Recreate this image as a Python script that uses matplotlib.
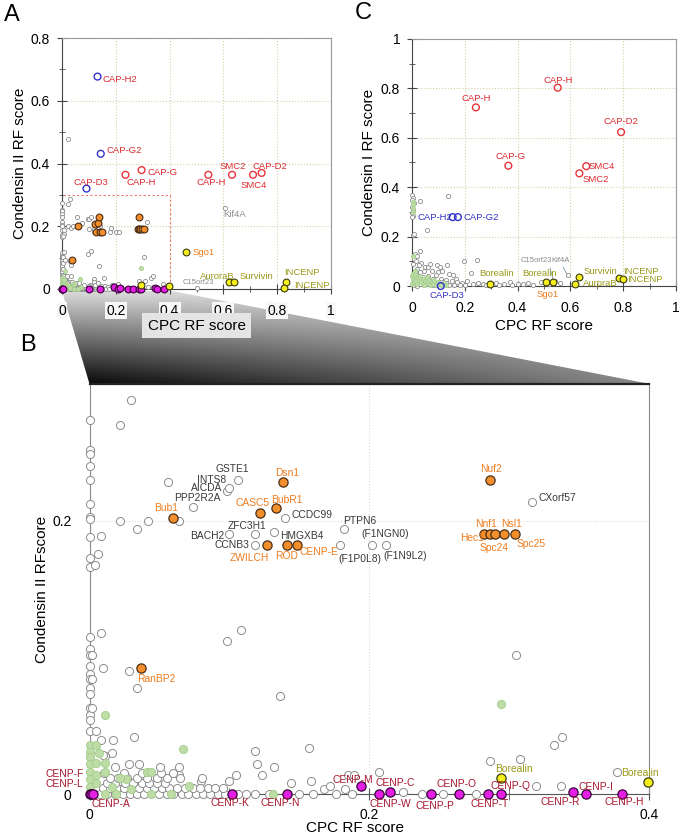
import numpy as np
import matplotlib
matplotlib.use("Agg")
import matplotlib.pyplot as plt
from matplotlib.patches import Polygon, Rectangle
from matplotlib.ticker import MultipleLocator

plt.rcParams['font.family'] = ['Liberation Sans', 'DejaVu Sans']

# ---------------- data: Condensin II RF score vs CPC RF score (A, B) ----------------
gray2 = np.array([
    (0, 0.274), (0, 0.252), (0, 0.249), (0, 0.240), (0, 0.230), (0, 0.212), (0, 0.203),
    (0, 0.201), (0, 0.188), (0, 0.173), (0, 0.166), (0, 0.115), (0, 0.106), (0, 0.102),
    (0, 0.094), (0, 0.088), (0, 0.084), (0, 0.078), (0, 0.073), (0, 0.063), (0, 0.058),
    (0, 0.054), (0, 0.046), (0.002, 0.102), (0.002, 0.084), (0.002, 0.063), (0.005, 0.046),
    (0.030, 0.288), (0.022, 0.270), (0.008, 0.189), (0.006, 0.176), (0.004, 0.168),
    (0.022, 0.200), (0.034, 0.194), (0.042, 0.200), (0.056, 0.228), (0.064, 0.200),
    (0.074, 0.210), (0.098, 0.222), (0.100, 0.224), (0.106, 0.230), (0.140, 0.202),
    (0.118, 0.190), (0.100, 0.190), (0.132, 0.192), (0.118, 0.182), (0.179, 0.182),
    (0.182, 0.194), (0.202, 0.182), (0.212, 0.182), (0.316, 0.214),
    (0.0085, 0.118), (0.010, 0.092), (0.028, 0.090), (0.034, 0.078), (0.098, 0.112),
    (0.108, 0.120), (0.136, 0.072), (0.305, 0.102),
    (0.032, 0.042), (0.008, 0.040), (0.017, 0.040), (0.016, 0.030), (0.011, 0.028),
    (0.118, 0.032), (0.157, 0.034), (0.120, 0.022), (0.123, 0.014), (0.132, 0.020),
    (0.105, 0.014), (0.100, 0.010), (0.028, 0.022), (0.064, 0.014), (0.080, 0.010),
    (0.144, 0.008), (0.158, 0.010), (0.168, 0.004), (0.172, 0.006), (0.332, 0.036),
    (0.338, 0.042), (0.286, 0.024), (0.308, 0.026), (0.319, 0.006), (0.337, 0.006),
    (0.377, 0.016), (0.207, 0.016), (0.183, 0.004), (0.185, 0.014), (0.189, 0.014),
    (0.188, 0.0), (0.224, 0.002), (0.238, 0.0), (0.253, 0.0), (0.276, 0.0), (0.176, 0.0),
    (0.160, 0.0), (0.150, 0.0), (0.128, 0.0), (0.118, 0.0), (0.112, 0.0),
    (0.0075, 0.0), (0.0128, 0.0), (0.0182, 0.0), (0.0237, 0.0), (0.0290, 0.0),
    (0.0338, 0.0), (0.0390, 0.0), (0.0499, 0.0), (0.0552, 0.0), (0.0599, 0.0),
    (0.0659, 0.0), (0.0707, 0.0), (0.0762, 0.0), (0.0814, 0.0), (0.0862, 0.0),
    (0.0921, 0.0), (0.0970, 0.0), (0.1060, 0.0),
    (0.0099, 0.0044), (0.0147, 0.0044), (0.0199, 0.0044), (0.0247, 0.0044),
    (0.0302, 0.0044), (0.0357, 0.0044), (0.0410, 0.0044), (0.0462, 0.0044),
    (0.0516, 0.0044), (0.0571, 0.0044), (0.0624, 0.0044), (0.0683, 0.0044),
    (0.0738, 0.0044), (0.0790, 0.0044), (0.0850, 0.0044), (0.0898, 0.0044),
    (0.0953, 0.0044),
    (0.0123, 0.008), (0.0182, 0.008), (0.0254, 0.008), (0.0314, 0.008), (0.0373, 0.008),
    (0.0428, 0.008), (0.0481, 0.008), (0.0540, 0.008),
    (0.0147, 0.0117), (0.0206, 0.0117), (0.0270, 0.0117), (0.0337, 0.0117),
    (0.0409, 0.0117), (0.0481, 0.0117), (0.0552, 0.0117), (0.0647, 0.0117),
    (0.0802, 0.0117),
    (0.0104, 0.0153), (0.0247, 0.0153), (0.0373, 0.0153), (0.0509, 0.0153), (0.0595, 0.0153),
    (0.0182, 0.020), (0.0504, 0.020), (0.0643, 0.020), (0.0357, 0.0224), (0.0099, 0.0287),
    (0.021, 0.477), (0.607, 0.259), (0.500, 0.003),
])

green2 = np.array([
    (0.011, 0.058), (0.067, 0.033), (0.294, 0.066), (0, 0.036), (0, 0.031), (0, 0.027),
    (0.005, 0.036), (0, 0.022), (0, 0.016), (0, 0.011), (0, 0.005), (0.005, 0.023),
    (0.011, 0.023), (0.011, 0.016), (0.041, 0.016), (0.044, 0.016), (0.026, 0.011),
    (0.022, 0.012), (0.071, 0.006), (0.058, 0.0), (0.044, 0.0), (0.011, 0.0), (0.019, 0.0),
    (0.005, 0.008), (0.005, 0.014), (0.131, 0.0), (0.016, 0.005), (0.030, 0.004),
    (0.007, 0.030),
])

orange2 = np.array([
    (0.060, 0.202), (0.122, 0.206), (0.133, 0.209), (0.138, 0.228), (0.127, 0.182),
    (0.141, 0.182), (0.148, 0.182), (0.286, 0.230), (0.282, 0.190), (0.286, 0.190),
    (0.290, 0.190), (0.296, 0.190), (0.304, 0.190), (0.037, 0.092),
])

magenta2 = np.array([
    (0.0, 0.0), (0.001, 0.0), (0.0025, 0.0), (0.102, 0.0), (0.141, 0.0), (0.194, 0.006),
    (0.207, 0.0), (0.215, 0.002), (0.244, 0.0), (0.264, 0.0), (0.285, 0.0), (0.294, 0.0),
    (0.346, 0.002), (0.355, 0.0), (0.381, 0.0),
])

yellow2 = np.array([
    (0.294, 0.012), (0.399, 0.009), (0.462, 0.119), (0.620, 0.023), (0.638, 0.023),
    (0.833, 0.021), (0.826, 0.004),
])

red2 = np.array([
    (0.236, 0.364), (0.296, 0.379), (0.544, 0.364), (0.632, 0.364), (0.710, 0.364),
    (0.742, 0.370),
])

blue2 = np.array([(0.132, 0.677), (0.144, 0.431), (0.091, 0.320)])

# ---------------- data: Condensin I RF score vs CPC RF score (C) ----------------
gray1 = np.array([
    (0.0, 0.368), (0.004, 0.356), (0.0, 0.348), (0.006, 0.335), (0.0, 0.321), (0.002, 0.31),
    (0.0, 0.294), (0.004, 0.285), (0.0, 0.278), (0.003, 0.206), (0.008, 0.21), (0.03, 0.344),
    (0.135, 0.365), (0.056, 0.227), (0.030, 0.143), (0.012, 0.13), (0.02, 0.12),
    (0.008, 0.11), (0.015, 0.10), (0.035, 0.095), (0.025, 0.085), (0.005, 0.09),
    (0.05, 0.075), (0.062, 0.078), (0.093, 0.085), (0.131, 0.085), (0.068, 0.089),
    (0.106, 0.076), (0.045, 0.06), (0.02, 0.07), (0.012, 0.06), (0.03, 0.055), (0.075, 0.06),
    (0.1, 0.055), (0.115, 0.06), (0.14, 0.05), (0.155, 0.045), (0.09, 0.045), (0.06, 0.04),
    (0.04, 0.035), (0.08, 0.03), (0.11, 0.03), (0.13, 0.025), (0.15, 0.02), (0.165, 0.03),
    (0.17, 0.015), (0.19, 0.012), (0.198, 0.102), (0.247, 0.105), (0.223, 0.051),
    (0.21, 0.02), (0.23, 0.01), (0.25, 0.012), (0.27, 0.008), (0.32, 0.012), (0.35, 0.01),
    (0.37, 0.015), (0.4, 0.008), (0.42, 0.01), (0.44, 0.012), (0.46, 0.006), (0.49, 0.015),
    (0.52, 0.01), (0.56, 0.012), (0.590, 0.045), (0.54, 0.02), (0.06, 0.01), (0.08, 0.005),
    (0.1, 0.008), (0.12, 0.01), (0.14, 0.006), (0.16, 0.004), (0.18, 0.005), (0.2, 0.004),
    (0.28, 0.003), (0.33, 0.004), (0.38, 0.003), (0.015, 0.045), (0.025, 0.03),
    (0.035, 0.02), (0.045, 0.012), (0.01, 0.005), (0.02, 0.002), (0.03, 0.008),
    (0.05, 0.025), (0.07, 0.018), (0.09, 0.012), (0.11, 0.015), (0.13, 0.012),
])

green1 = np.array([
    (0.002, 0.34), (0.004, 0.33), (0.002, 0.315), (0.003, 0.30), (0.002, 0.12),
    (0.0, 0.04), (0.005, 0.03), (0.01, 0.02), (0.015, 0.035), (0.02, 0.01), (0.025, 0.025),
    (0.03, 0.04), (0.035, 0.015), (0.04, 0.03), (0.045, 0.005), (0.05, 0.02),
    (0.055, 0.035), (0.06, 0.012), (0.065, 0.025), (0.07, 0.005), (0.075, 0.018),
    (0.08, 0.01), (0.085, 0.025), (0.09, 0.005), (0.1, 0.015), (0.11, 0.005), (0.12, 0.012),
    (0.13, 0.004), (0.005, 0.05), (0.01, 0.06), (0.0, 0.01), (0.012, 0.045),
])

red1 = np.array([
    (0.552, 0.803), (0.242, 0.723), (0.792, 0.623), (0.365, 0.487), (0.660, 0.485),
    (0.634, 0.456),
])
blue1 = np.array([(0.154, 0.279), (0.174, 0.279), (0.109, 0.0)])
yellow1 = np.array([
    (0.295, 0.009), (0.508, 0.016), (0.533, 0.017), (0.619, 0.009), (0.631, 0.038),
    (0.784, 0.034), (0.798, 0.029),
])

# ---------------- labels ----------------
RED_T = '#dc2a30'
BLUE_T = '#3434c8'
ORANGE_T = '#f07c1e'
OLIVE_T = '#9a9a1c'
GRAY_T = '#8a8a8a'
DARK_T = '#3a3a3a'
CENP_T = '#a8162e'

labels_a = [
    ('CAP-H2', 0.152, 0.668, 'left', RED_T), ('CAP-G2', 0.167, 0.44, 'left', RED_T),
    ('CAP-D3', 0.043, 0.341, 'left', RED_T), ('CAP-H', 0.24, 0.338, 'left', RED_T),
    ('CAP-G', 0.317, 0.37, 'left', RED_T), ('CAP-H', 0.50, 0.338, 'left', RED_T),
    ('SMC2', 0.585, 0.389, 'left', RED_T), ('SMC4', 0.665, 0.331, 'left', RED_T),
    ('CAP-D2', 0.707, 0.391, 'left', RED_T), ('Kif4A', 0.60, 0.238, 'left', GRAY_T),
    ('Sgo1', 0.486, 0.115, 'left', ORANGE_T), ('AuroraB', 0.514, 0.041, 'left', OLIVE_T),
    ('Survivin', 0.66, 0.041, 'left', OLIVE_T), ('INCENP', 0.827, 0.051, 'left', OLIVE_T),
    ('INCENP', 0.862, 0.012, 'left', OLIVE_T),
]

labels_c = [
    ('CAP-H', 0.553, 0.834, 'center', RED_T), ('CAP-H', 0.242, 0.760, 'center', RED_T),
    ('CAP-D2', 0.791, 0.665, 'center', RED_T), ('CAP-G', 0.372, 0.523, 'center', RED_T),
    ('SMC4', 0.668, 0.485, 'left', RED_T), ('SMC2', 0.645, 0.433, 'left', RED_T),
    ('CAP-H2', 0.02, 0.278, 'left', BLUE_T), ('CAP-G2', 0.194, 0.278, 'left', BLUE_T),
    ('CAP-D3', 0.133, -0.04, 'center', BLUE_T),
    ('Borealin', 0.32, 0.049, 'center', OLIVE_T), ('Borealin', 0.482, 0.049, 'center', OLIVE_T),
    ('Survivin', 0.715, 0.058, 'center', OLIVE_T), ('AurpraB', 0.649, 0.011, 'left', OLIVE_T),
    ('INCENP', 0.80, 0.058, 'left', OLIVE_T), ('INCENP', 0.816, 0.027, 'left', OLIVE_T),
    ('Sgo1', 0.513, -0.036, 'center', ORANGE_T),
]

labels_b = [
    ('GSTE1', 0.102, 0.2376, 'center', DARK_T), ('INTS8', 0.0876, 0.2298, 'center', DARK_T),
    ('AICDA', 0.084, 0.2237, 'center', DARK_T), ('PPP2R2A', 0.0768, 0.2168, 'center', DARK_T),
    ('CCDC99', 0.1441, 0.2042, 'left', DARK_T), ('ZFC3H1', 0.1128, 0.1964, 'center', DARK_T),
    ('BACH2', 0.0962, 0.1888, 'right', DARK_T), ('CCNB3', 0.1141, 0.1822, 'right', DARK_T),
    ('HMGXB4', 0.1363, 0.189, 'left', DARK_T), ('PTPN6', 0.1811, 0.1998, 'left', DARK_T),
    ('(F1NGN0)', 0.1947, 0.190, 'left', DARK_T), ('(F1P0L8)', 0.178, 0.1718, 'left', DARK_T),
    ('(F1N9L2)', 0.2102, 0.1742, 'left', DARK_T), ('CXorf57', 0.321, 0.2164, 'left', DARK_T),
    ('Bub1', 0.0544, 0.209, 'center', ORANGE_T), ('Dsn1', 0.141, 0.2346, 'center', ORANGE_T),
    ('CASC5', 0.1165, 0.2132, 'center', ORANGE_T), ('BubR1', 0.141, 0.2151, 'center', ORANGE_T),
    ('ZWILCH', 0.1144, 0.173, 'center', ORANGE_T), ('ROD', 0.1406, 0.1744, 'center', ORANGE_T),
    ('CENP-E', 0.150, 0.1774, 'left', ORANGE_T), ('Nuf2', 0.287, 0.2376, 'center', ORANGE_T),
    ('Nnf1', 0.2838, 0.1976, 'center', ORANGE_T), ('Nsl1', 0.3014, 0.1976, 'center', ORANGE_T),
    ('Hec1', 0.2817, 0.1871, 'right', ORANGE_T), ('Spc24', 0.2892, 0.1798, 'center', ORANGE_T),
    ('Spc25', 0.3056, 0.183, 'left', ORANGE_T), ('RanBP2', 0.048, 0.0845, 'center', ORANGE_T),
    ('CENP-F', -0.0044, 0.0146, 'right', CENP_T), ('CENP-L', -0.0044, 0.0073, 'right', CENP_T),
    ('CENP-A', 0.0016, -0.0071, 'left', CENP_T), ('CENP-K', 0.1005, -0.0061, 'center', CENP_T),
    ('CENP-N', 0.1363, -0.0061, 'center', CENP_T), ('CENP-M', 0.1885, 0.0105, 'center', CENP_T),
    ('CENP-C', 0.2185, 0.008, 'center', CENP_T), ('CENP-W', 0.215, -0.0071, 'center', CENP_T),
    ('CENP-P', 0.247, -0.0083, 'center', CENP_T), ('CENP-O', 0.2623, 0.0075, 'center', CENP_T),
    ('CENP-T', 0.2858, -0.0071, 'center', CENP_T), ('CENP-Q', 0.3008, 0.0063, 'center', CENP_T),
    ('CENP-R', 0.3362, -0.0059, 'center', CENP_T), ('CENP-I', 0.3623, 0.0056, 'center', CENP_T),
    ('CENP-H', 0.3822, -0.0059, 'center', CENP_T),
    ('Borealin', 0.3037, 0.0185, 'center', OLIVE_T), ('Borealin', 0.380, 0.0154, 'left', OLIVE_T),
]

# ---------------- styles ----------------
STY = {
    'gray': dict(facecolor='white', edgecolor='#8c8c8c', zorder=3),
    'green': dict(facecolor='#bddca6', edgecolor='#a8cf90', zorder=4),
    'orange': dict(facecolor='#f28e2b', edgecolor='#4a2e18', zorder=6),
    'magenta': dict(facecolor='#e41ee4', edgecolor='#3a003a', zorder=6),
    'yellow': dict(facecolor='#f4ee1c', edgecolor='#3a3a10', zorder=6),
    'red': dict(facecolor='none', edgecolor='#e8343a', zorder=6),
    'blue': dict(facecolor='none', edgecolor='#3434cc', zorder=6),
}


def dots(ax, pts, kind, s, lw, xmax=None, ymax=None):
    if xmax is not None:
        keep = (pts[:, 0] <= xmax) & (pts[:, 1] <= ymax)
        pts = pts[keep]
    ax.scatter(pts[:, 0], pts[:, 1], s=s, linewidths=lw, clip_on=False, **STY[kind])


def frame(ax):
    for side in ['top', 'right']:
        ax.spines[side].set_color('#999999')
    for side in ['left', 'bottom']:
        ax.spines[side].set_color('#444444')
    ax.tick_params(which='both', direction='inout', colors='#444444', labelcolor='black')
    ax.tick_params(which='major', length=7, labelsize=10, pad=5)
    ax.tick_params(which='minor', length=5)
    ax.tick_params(axis='x', which='major', pad=7)


fig = plt.figure(figsize=(6.8, 8.4), dpi=100)

# gradient wedge connecting A's boxed region with panel B
bg = fig.add_axes([0, 0, 1, 1], zorder=-1)
bg.set_xlim(0, 680)
bg.set_ylim(840, 0)
bg.axis('off')
gx = np.linspace(62, 650, 400)
gy = np.linspace(291, 384, 100)
tx = np.clip((gx - 89) / 561, 0, 1)
ty = (gy - 291) / 93
shade = 1 - (0.14 + 0.82 * ty[:, None] * (1 - 0.6 * tx[None, :]))
im = bg.imshow(shade, cmap='gray', vmin=0, vmax=1, extent=(62, 650, 384, 291),
               aspect='auto', interpolation='bilinear')
wedge = Polygon([(62, 291), (172, 291), (650, 384), (89.5, 384)], closed=True,
                facecolor='none', edgecolor='none', transform=bg.transData)
bg.add_patch(wedge)
im.set_clip_path(wedge)

# ---------------- panel A ----------------
axA = fig.add_axes([62 / 680, 1 - 289 / 840, 269 / 680, 251 / 840])
axA.set_xlim(0, 1)
axA.set_ylim(0, 0.8)
axA.set_xticks([0, 0.2, 0.4, 0.6, 0.8, 1])
axA.set_xticklabels(['0', '0.2', '0.4', '0.6', '0.8', '1'])
axA.set_yticks([0, 0.2, 0.4, 0.6, 0.8])
axA.set_yticklabels(['0', '0.2', '0.4', '0.6', '0.8'])
axA.xaxis.set_minor_locator(MultipleLocator(0.1))
axA.yaxis.set_minor_locator(MultipleLocator(0.1))
axA.grid(True, which='major', linestyle=':', color='#d2d2aa', linewidth=0.8)
axA.set_axisbelow(True)
frame(axA)
axA.add_patch(Rectangle((0, 0), 0.4, 0.3, fill=False, edgecolor='#f07a6a',
                        linestyle=(0, (2, 2)), linewidth=0.8, zorder=2))
dots(axA, gray2, 'gray', 9, 0.6)
dots(axA, green2, 'green', 9, 0.6)
dots(axA, orange2, 'orange', 24, 0.8)
dots(axA, magenta2, 'magenta', 24, 0.8)
dots(axA, yellow2, 'yellow', 24, 0.8)
dots(axA, red2, 'red', 24, 1.0)
dots(axA, blue2, 'blue', 24, 1.0)
for t, x, y, ha, c in labels_a:
    axA.text(x, y, t, ha=ha, va='center', color=c, fontsize=6.8, zorder=8)
axA.text(0.447, 0.02, 'C15orf23', ha='left', va='center', color='#8a8a8a', fontsize=5.5)
axA.set_ylabel('Condensin II RF score', fontsize=11)
axA.yaxis.set_label_coords(-0.156, 0.5)
axA.yaxis.label.set_va('center')
axA.set_xlabel('CPC RF score', fontsize=11,
               bbox=dict(facecolor='#e4e4e4', edgecolor='none', pad=4))
axA.xaxis.set_label_coords(0.5, -0.147)
axA.xaxis.label.set_va('center')
for lbl in axA.get_xticklabels():
    lbl.set_bbox(dict(facecolor='#f7f7f7', edgecolor='none', pad=1))

# ---------------- panel C ----------------
axC = fig.add_axes([412 / 680, 1 - 286 / 840, 264 / 680, 247 / 840])
axC.set_xlim(0, 1)
axC.set_ylim(0, 1)
axC.set_xticks([0, 0.2, 0.4, 0.6, 0.8, 1])
axC.set_xticklabels(['0', '0.2', '0.4', '0.6', '0.8', '1'])
axC.set_yticks([0, 0.2, 0.4, 0.6, 0.8, 1])
axC.set_yticklabels(['0', '0.2', '0.4', '0.6', '0.8', '1'])
axC.xaxis.set_minor_locator(MultipleLocator(0.1))
axC.yaxis.set_minor_locator(MultipleLocator(0.1))
axC.grid(True, which='major', linestyle=':', color='#d2d2aa', linewidth=0.8)
axC.set_axisbelow(True)
frame(axC)
dots(axC, gray1, 'gray', 9, 0.6)
dots(axC, green1, 'green', 9, 0.6)
dots(axC, yellow1, 'yellow', 24, 0.8)
dots(axC, red1, 'red', 24, 1.0)
dots(axC, blue1, 'blue', 24, 1.0)
for t, x, y, ha, c in labels_c:
    axC.text(x, y, t, ha=ha, va='center', color=c, fontsize=6.8, zorder=8, clip_on=False)
axC.text(0.469, 0.105, 'C15orf23', ha='center', va='center', color='#8a8a8a', fontsize=5.5)
axC.text(0.561, 0.105, 'Kif4A', ha='center', va='center', color='#8a8a8a', fontsize=5.5)
axC.plot([0.523, 0.535], [0.072, 0.024], color='#7a9aae', linewidth=0.6)
axC.plot([0.573, 0.586], [0.076, 0.049], color='#7a9aae', linewidth=0.6)
axC.set_ylabel('Condensin I RF score', fontsize=11)
axC.yaxis.set_label_coords(-0.163, 0.5)
axC.yaxis.label.set_va('center')
axC.set_xlabel('CPC RF score', fontsize=11)
axC.xaxis.set_label_coords(0.5, -0.162)
axC.xaxis.label.set_va('center')

# ---------------- panel B (zoom of the dashed box in A) ----------------
axB = fig.add_axes([89.5 / 680, 1 - 794.3 / 840, 559.5 / 680, 410.3 / 840])
axB.set_xlim(0, 0.4)
axB.set_ylim(0, 0.3)
axB.set_xticks([0, 0.2, 0.4])
axB.set_xticklabels(['0', '0.2', '0.4'])
axB.set_yticks([0, 0.2])
axB.set_yticklabels(['0', '0.2'])
axB.xaxis.set_minor_locator(MultipleLocator(0.1))
axB.grid(True, which='major', linestyle=':', color='#dcdcdc', linewidth=0.8)
axB.set_axisbelow(True)
for side in ['left', 'right']:
    axB.spines[side].set_color('#8a8a8a')
axB.spines['bottom'].set_color('#555555')
axB.spines['top'].set_color('#222222')
axB.spines['top'].set_linewidth(1.6)
axB.tick_params(which='both', direction='inout', colors='#555555', labelcolor='black')
axB.tick_params(which='major', length=8, labelsize=10, pad=6)
axB.tick_params(which='minor', length=8)
axB.tick_params(axis='y', which='major', length=0, pad=13)
dots(axB, gray2, 'gray', 34, 0.7, 0.401, 0.301)
dots(axB, green2, 'green', 34, 0.7, 0.401, 0.301)
dots(axB, orange2, 'orange', 44, 0.9, 0.401, 0.301)
dots(axB, magenta2, 'magenta', 44, 0.9, 0.401, 0.301)
dots(axB, yellow2, 'yellow', 44, 0.9, 0.401, 0.301)
for t, x, y, ha, c in labels_b:
    axB.text(x, y, t, ha=ha, va='center', color=c, fontsize=7.4, zorder=8, clip_on=False)
axB.set_ylabel('Condensin II RFscore', fontsize=11)
axB.yaxis.set_label_coords(-0.085, 0.5)
axB.yaxis.label.set_va('center')
axB.set_xlabel('CPC RF score', fontsize=11)
axB.xaxis.set_label_coords(0.475, -0.082)
axB.xaxis.label.set_va('center')

# panel letters
fig.text(12 / 680, 1 - 15 / 840, 'A', fontsize=17, ha='center', va='center')
fig.text(363 / 680, 1 - 13 / 840, 'C', fontsize=17, ha='center', va='center')
fig.text(28 / 680, 1 - 345 / 840, 'B', fontsize=17, ha='center', va='center')

fig.savefig('out.png', dpi=100)
